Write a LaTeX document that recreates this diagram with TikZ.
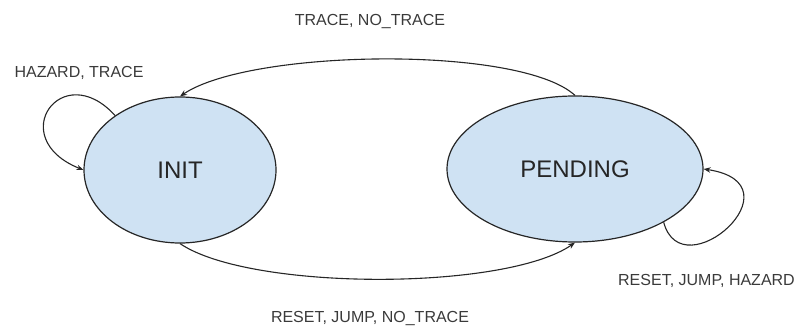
\documentclass[tikz,border=0pt]{standalone}
\usepackage{fontspec}
\setmainfont{Liberation Sans}
\usetikzlibrary{arrows.meta,shapes.geometric}
\definecolor{statefill}{HTML}{CFE2F3}
\definecolor{ink}{HTML}{262626}
\definecolor{labelink}{HTML}{3A3A3A}
\begin{document}
\begin{tikzpicture}[x=1pt,y=1pt,
  state/.style={ellipse, draw=ink, line width=1.2pt, fill=statefill,
    text=ink, font=\fontsize{24}{26}\selectfont, inner sep=0pt},
  edgelabel/.style={text=labelink, font=\fontsize{16}{18}\selectfont, inner sep=0pt},
  trans/.style={draw=ink, line width=1.1pt,
    -{Stealth[length=7pt,width=5.5pt]}}]
  \useasboundingbox (0,0) rectangle (794,329);

  % states
  \node[state, minimum width=192pt, minimum height=146pt] (init) at (180,159) {INIT};
  \node[state, minimum width=256pt, minimum height=146pt] (pending) at (575,160) {PENDING};

  % transitions between the states
  \draw[trans] (pending.north) .. controls (520,284) and (250,280) .. (init.north);
  \draw[trans] (init.south) .. controls (250,38) and (505,38) .. (pending.south);

  % self loops
  \draw[trans] (init.140) .. controls (62,272) and (4,191) .. (init.west);
  \draw[trans] (pending.-31) .. controls (682,38) and (803,145) .. (pending.east);

  % labels
  \node[edgelabel] (lblTop) at (370,307) {TRACE, NO\_TRACE};
  \node[edgelabel] (lblInit) at (79,256) {HAZARD, TRACE};
  \node[edgelabel, anchor=east] (lblPend) at (795,48) {RESET, JUMP, HAZARD};
  \node[edgelabel] (lblBottom) at (370,10) {RESET, JUMP, NO\_TRACE};
\end{tikzpicture}
\end{document}
